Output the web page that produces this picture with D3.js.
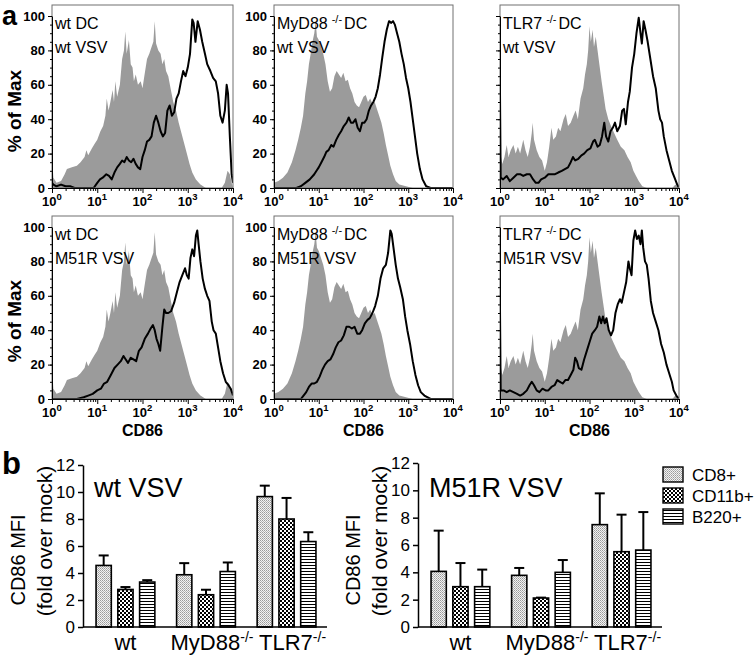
<!DOCTYPE html>
<html>
<head>
<meta charset="utf-8">
<script src="https://cdn.jsdelivr.net/npm/d3@7"></script>
<style>
  body { margin: 0; background: #fff; }
  svg { display: block; font-family: "Liberation Sans", Arial, Helvetica, sans-serif; }
</style>
</head>
<body>
<svg id="chart" width="755" height="656"></svg>
<script>
// ---------- panel a: CD86 histograms (x = log10 CD86, y = % of max) ----------
const grayWt = [[0,0],[0.005,17],[0.03,6],[0.1,3],[0.2,4],[0.28,8],[0.33,11],[0.44,12],[0.55,13],[0.63,15],[0.72,18],[0.76,22],[0.8,19],[0.88,23],[0.95,26],[1.0,28],[1.07,33],[1.13,36],[1.18,42],[1.21,52],[1.25,45],[1.29,50],[1.34,57],[1.37,50],[1.4,62],[1.44,53],[1.5,60],[1.55,75],[1.59,80],[1.62,91],[1.65,78],[1.7,86],[1.74,72],[1.78,70],[1.81,62],[1.85,66],[1.9,60],[1.96,62],[2.0,58],[2.04,65],[2.1,75],[2.15,78],[2.2,82],[2.24,85],[2.27,97],[2.3,84],[2.35,80],[2.4,78],[2.44,72],[2.48,75],[2.52,68],[2.57,65],[2.62,58],[2.68,50],[2.74,45],[2.8,38],[2.86,32],[2.92,26],[2.98,20],[3.04,14],[3.1,9],[3.18,5],[3.28,2],[3.4,0],[3.75,0],[3.82,3],[3.88,10],[3.93,8],[3.97,3],[4,0]];
const grayMyd = [[0,3],[0.1,4],[0.2,6],[0.3,9],[0.4,15],[0.48,22],[0.54,28],[0.6,35],[0.65,42],[0.7,55],[0.74,62],[0.78,72],[0.82,78],[0.86,85],[0.9,90],[0.93,97],[0.96,88],[1.0,86],[1.05,82],[1.1,78],[1.15,72],[1.2,62],[1.25,56],[1.3,58],[1.35,65],[1.4,68],[1.45,66],[1.5,64],[1.55,67],[1.6,62],[1.65,63],[1.7,58],[1.75,55],[1.8,50],[1.85,48],[1.9,47],[1.95,50],[2.0,53],[2.05,54],[2.1,50],[2.15,52],[2.2,49],[2.25,50],[2.3,46],[2.35,42],[2.4,38],[2.45,32],[2.5,25],[2.55,19],[2.6,13],[2.66,8],[2.72,4],[2.8,2],[2.95,1],[3.1,0],[4,0]];
const grayTlr = [[0,0],[0.01,20],[0.05,14],[0.1,18],[0.15,25],[0.19,18],[0.24,22],[0.3,25],[0.35,20],[0.4,24],[0.45,20],[0.52,28],[0.57,22],[0.62,18],[0.67,24],[0.71,32],[0.73,38],[0.76,28],[0.82,22],[0.88,18],[0.94,16],[1.0,10],[1.05,15],[1.1,24],[1.15,35],[1.19,28],[1.25,30],[1.3,35],[1.35,33],[1.42,40],[1.47,43],[1.52,36],[1.58,38],[1.64,42],[1.69,45],[1.74,40],[1.8,52],[1.86,58],[1.9,66],[1.94,72],[1.97,80],[2.0,94],[2.03,85],[2.07,92],[2.1,82],[2.14,88],[2.18,80],[2.22,72],[2.27,62],[2.31,55],[2.36,46],[2.42,40],[2.48,36],[2.55,32],[2.62,28],[2.7,24],[2.78,22],[2.85,18],[2.92,15],[2.98,10],[3.04,7],[3.1,4],[3.18,1],[3.28,0],[3.85,0],[3.92,2],[3.97,1],[4,0]];

const lineWtWt = [[0,3],[0.03,2],[0.1,1],[0.2,2],[0.3,1],[0.4,1],[0.5,0],[0.65,0],[0.8,0],[0.92,0],[1.0,3],[1.06,5],[1.12,6],[1.2,8],[1.26,7],[1.32,5],[1.38,9],[1.44,12],[1.5,14],[1.55,16],[1.6,15],[1.65,18],[1.7,16],[1.75,15],[1.8,17],[1.85,14],[1.9,12],[1.95,11],[2.0,18],[2.05,22],[2.1,27],[2.15,28],[2.2,30],[2.25,38],[2.3,42],[2.35,38],[2.4,33],[2.45,30],[2.5,32],[2.55,45],[2.6,48],[2.65,42],[2.7,44],[2.75,52],[2.8,55],[2.85,62],[2.9,68],[2.95,65],[3.0,70],[3.05,78],[3.1,98],[3.13,96],[3.17,85],[3.22,97],[3.27,92],[3.32,85],[3.38,78],[3.43,72],[3.5,68],[3.56,64],[3.62,62],[3.67,55],[3.72,42],[3.77,38],[3.82,45],[3.86,60],[3.89,55],[3.93,30],[3.97,8],[4,3]];
const lineMydWt = [[0,0],[0.5,0],[0.6,1],[0.7,3],[0.8,5],[0.9,8],[0.95,10],[1.0,12],[1.06,15],[1.12,18],[1.17,21],[1.22,22],[1.28,25],[1.33,24],[1.39,28],[1.45,31],[1.5,33],[1.56,36],[1.62,38],[1.67,41],[1.72,38],[1.77,38],[1.82,40],[1.87,35],[1.92,33],[1.97,38],[2.02,38],[2.07,40],[2.12,45],[2.17,48],[2.22,50],[2.27,53],[2.32,58],[2.37,66],[2.42,76],[2.47,85],[2.52,92],[2.57,97],[2.62,96],[2.66,97],[2.7,95],[2.75,90],[2.8,85],[2.85,78],[2.9,72],[2.95,64],[3.0,58],[3.05,50],[3.1,40],[3.15,30],[3.2,20],[3.26,11],[3.32,5],[3.4,1],[3.5,0],[4,0]];
const lineTlrWt = [[0,55],[0.015,6],[0.07,5],[0.15,7],[0.22,4],[0.3,6],[0.38,8],[0.45,8],[0.52,7],[0.6,8],[0.67,8],[0.74,5],[0.8,3],[0.86,3],[0.92,5],[1.0,6],[1.08,8],[1.15,8],[1.23,8],[1.3,9],[1.38,10],[1.45,11],[1.52,12],[1.58,15],[1.63,18],[1.68,16],[1.75,17],[1.82,19],[1.88,20],[1.95,22],[2.02,23],[2.08,27],[2.12,28],[2.18,24],[2.23,25],[2.28,30],[2.33,38],[2.37,30],[2.42,27],[2.47,33],[2.52,35],[2.57,38],[2.62,33],[2.68,36],[2.73,45],[2.77,46],[2.81,37],[2.86,50],[2.9,56],[2.95,70],[3.0,78],[3.05,90],[3.1,99],[3.14,90],[3.17,84],[3.21,97],[3.25,92],[3.3,85],[3.36,75],[3.42,65],[3.48,58],[3.54,45],[3.58,40],[3.62,38],[3.66,30],[3.72,22],[3.78,16],[3.84,10],[3.9,6],[3.96,2],[4,0]];
const lineWtM51r = [[0,0],[0.55,0],[0.7,1],[0.8,2],[0.9,3],[1.0,5],[1.08,6],[1.15,9],[1.22,10],[1.3,14],[1.38,18],[1.45,20],[1.52,22],[1.58,25],[1.63,23],[1.68,21],[1.74,24],[1.8,23],[1.86,22],[1.92,28],[1.98,30],[2.05,35],[2.12,38],[2.18,41],[2.23,43],[2.27,40],[2.31,35],[2.35,32],[2.39,28],[2.44,42],[2.48,52],[2.52,50],[2.57,50],[2.63,51],[2.7,56],[2.76,62],[2.82,68],[2.88,72],[2.94,76],[2.98,72],[3.02,70],[3.06,82],[3.1,87],[3.14,83],[3.18,95],[3.21,98],[3.24,90],[3.28,80],[3.33,70],[3.38,64],[3.43,60],[3.48,57],[3.53,45],[3.57,40],[3.62,38],[3.67,30],[3.72,22],[3.78,15],[3.84,10],[3.9,8],[3.95,6],[4,2]];
const lineMydM51r = [[0,0],[0.6,0],[0.66,2],[0.72,4],[0.78,7],[0.84,9],[0.9,9],[0.96,10],[1.02,13],[1.08,17],[1.14,20],[1.2,22],[1.26,23],[1.32,26],[1.38,30],[1.44,33],[1.5,34],[1.56,37],[1.62,42],[1.68,42],[1.74,41],[1.8,42],[1.86,38],[1.92,38],[1.97,40],[2.03,44],[2.09,46],[2.14,47],[2.2,50],[2.26,54],[2.32,60],[2.38,70],[2.44,76],[2.5,78],[2.55,85],[2.6,98],[2.63,96],[2.67,88],[2.72,78],[2.77,70],[2.82,65],[2.88,58],[2.93,48],[2.98,40],[3.04,32],[3.1,22],[3.16,14],[3.22,8],[3.28,4],[3.36,2],[3.5,0],[4,0]];
const lineTlrM51r = [[0,52],[0.015,5],[0.08,5],[0.15,4],[0.22,5],[0.3,4],[0.38,3],[0.45,2],[0.52,3],[0.6,5],[0.66,8],[0.71,10],[0.76,8],[0.82,5],[0.88,4],[0.95,6],[1.02,5],[1.08,5],[1.15,7],[1.22,8],[1.28,11],[1.34,10],[1.4,9],[1.46,11],[1.52,11],[1.58,14],[1.64,17],[1.68,24],[1.72,22],[1.76,18],[1.82,17],[1.88,23],[1.94,28],[2.0,33],[2.06,38],[2.12,40],[2.17,42],[2.22,48],[2.26,44],[2.3,48],[2.34,44],[2.38,47],[2.43,40],[2.48,37],[2.53,40],[2.58,50],[2.63,55],[2.68,58],[2.72,56],[2.77,62],[2.82,68],[2.87,80],[2.9,76],[2.94,72],[2.98,92],[3.02,98],[3.06,93],[3.1,95],[3.14,90],[3.17,98],[3.2,88],[3.24,80],[3.28,78],[3.32,70],[3.37,57],[3.42,50],[3.48,45],[3.54,40],[3.6,32],[3.66,27],[3.72,20],[3.78,15],[3.84,10],[3.88,5],[3.94,2],[4,0]];

const hostNames = ['wt', 'MyD88', 'TLR7'];
const virusNames = ['wt VSV', 'M51R VSV'];
const pctTicks = [0, 20, 40, 60, 80, 100];
const decadeTicks = [1, 10, 100, 1000, 10000];

const histGray = [[grayWt, grayMyd, grayTlr], [grayWt, grayMyd, grayTlr]];
const histLine = [[lineWtWt, lineMydWt, lineTlrWt], [lineWtM51r, lineMydM51r, lineTlrM51r]];

// ---------- panel b: CD86 MFI fold over mock ----------
const barGroups = ['wt', 'MyD88', 'TLR7'];
const barSeries = ['CD8+', 'CD11b+', 'B220+'];
const wtVsvMean = [[4.56, 2.78, 3.33], [3.87, 2.39, 4.11], [9.66, 8.0, 6.33]];
const wtVsvErr = [[0.74, 0.18, 0.14], [0.86, 0.37, 0.67], [0.81, 1.56, 0.69]];
const m51rVsvMean = [[4.07, 2.95, 2.95], [3.78, 2.12, 4.0], [7.49, 5.51, 5.63]];
const m51rVsvErr = [[2.98, 1.73, 1.25], [0.54, 0.03, 0.9], [2.29, 2.71, 2.78]];
const mfiTicks = [0, 2, 4, 6, 8, 10, 12];

// ---------- layout ----------
const histCols = [
    { x0: 52, x1: 233, labels: true },
    { x0: 274, x1: 453, labels: true },
    { x0: 500, x1: 679, labels: false }
];
const histRows = [
    { top: 5, y0: 188, y100: 16 },
    { top: 216, y0: 399, y100: 227 }
];
const patternIds = ['pat-dots', 'pat-check', 'pat-lines'];

const svg = d3.select('#chart');
svg.append('rect').attr('width', 755).attr('height', 656).attr('fill', '#fff');

// Patterns for the bar fills
const defs = svg.append('defs');
const dots = defs.append('pattern').attr('id', 'pat-dots').attr('patternUnits', 'userSpaceOnUse')
    .attr('width', 2).attr('height', 2);
dots.append('rect').attr('width', 2).attr('height', 2).attr('fill', '#f2f2f2');
dots.append('rect').attr('width', 1).attr('height', 1).attr('fill', '#9a9a9a');
dots.append('rect').attr('x', 1).attr('y', 1).attr('width', 1).attr('height', 1).attr('fill', '#b5b5b5');

const check = defs.append('pattern').attr('id', 'pat-check').attr('patternUnits', 'userSpaceOnUse')
    .attr('width', 4).attr('height', 4);
check.append('rect').attr('width', 4).attr('height', 4).attr('fill', '#fff');
check.append('rect').attr('width', 2).attr('height', 2).attr('fill', '#000');
check.append('rect').attr('x', 2).attr('y', 2).attr('width', 2).attr('height', 2).attr('fill', '#000');

const stripes = defs.append('pattern').attr('id', 'pat-lines').attr('patternUnits', 'userSpaceOnUse')
    .attr('width', 4).attr('height', 3);
stripes.append('rect').attr('width', 4).attr('height', 3).attr('fill', '#fff');
stripes.append('rect').attr('y', 1).attr('width', 4).attr('height', 1).attr('fill', '#000');

// Render one histogram panel
function renderHistogram(r, c) {
    const col = histCols[c];
    const row = histRows[r];
    const x = d3.scaleLog().domain([1, 1e4]).range([col.x0, col.x1]);
    const y = d3.scaleLinear().domain([0, 100]).range([row.y0, row.y100]);
    const g = svg.append('g');

    const clipId = `clip-${r}-${c}`;
    defs.append('clipPath').attr('id', clipId).append('rect')
        .attr('x', col.x0).attr('y', row.top)
        .attr('width', col.x1 - col.x0).attr('height', row.y0 - row.top);

    const area = d3.area()
        .x(d => x(Math.pow(10, d[0])))
        .y0(y(0))
        .y1(d => y(d[1]));
    const line = d3.line()
        .x(d => x(Math.pow(10, d[0])))
        .y(d => y(d[1]));

    g.append('path')
        .datum(histGray[r][c])
        .attr('d', area)
        .attr('fill', '#9b9b9b')
        .attr('clip-path', `url(#${clipId})`);

    g.append('path')
        .datum(histLine[r][c])
        .attr('d', line)
        .attr('fill', 'none')
        .attr('stroke', '#000')
        .attr('stroke-width', 2)
        .attr('stroke-linejoin', 'round')
        .attr('clip-path', `url(#${clipId})`);

    // Frame
    g.append('rect')
        .attr('x', col.x0).attr('y', row.top)
        .attr('width', col.x1 - col.x0).attr('height', row.y0 - row.top)
        .attr('fill', 'none')
        .attr('stroke', '#707070')
        .attr('stroke-width', 1);

    // Y axis
    const yAxis = g.append('g')
        .attr('transform', `translate(${col.x0},0)`)
        .call(d3.axisLeft(y).tickValues(pctTicks).tickSize(4).tickSizeOuter(0)
            .tickFormat(col.labels ? d => d : ''));
    yAxis.select('.domain').attr('stroke', '#000');
    yAxis.selectAll('text').style('font-size', '13px').style('font-weight', 'bold').attr('fill', '#000');

    g.append('g')
        .attr('transform', `translate(${col.x0},0)`)
        .call(d3.axisLeft(y).ticks(25).tickSize(2).tickFormat(''))
        .call(a => a.select('.domain').remove());

    // X axis: decades with labels, minor log ticks
    g.append('g')
        .attr('transform', `translate(0,${row.y0})`)
        .call(d3.axisBottom(x).tickValues(decadeTicks).tickSize(5).tickSizeOuter(0).tickFormat(''))
        .select('.domain').attr('stroke', '#000');

    g.append('g')
        .attr('transform', `translate(0,${row.y0})`)
        .call(d3.axisBottom(x).tickValues(x.ticks().filter(v => decadeTicks.indexOf(v) < 0))
            .tickSize(3).tickFormat(''))
        .call(a => a.select('.domain').remove());

    decadeTicks.forEach((v, i) => {
        const t = g.append('text')
            .attr('x', x(v))
            .attr('y', row.y0 + 18)
            .attr('text-anchor', 'middle')
            .style('font-size', '13px')
            .style('font-weight', 'bold');
        t.append('tspan').text('10');
        t.append('tspan').attr('dy', -6).style('font-size', '9.5px').text(i);
    });

    // Panel label
    const label = g.append('text')
        .attr('x', col.x0 + 3)
        .attr('y', row.top + 24)
        .style('font-size', '16px');
    label.append('tspan').text(hostNames[c]);
    if (c > 0) {
        label.append('tspan').attr('dx', 4).attr('dy', -6).style('font-size', '11px').text('-/-');
        label.append('tspan').attr('dx', 2).attr('dy', 6).text('DC');
    } else {
        label.append('tspan').text(' DC');
    }
    g.append('text')
        .attr('x', col.x0 + 3)
        .attr('y', row.top + 48)
        .style('font-size', '16px')
        .text(virusNames[r]);

    if (r === 1) {
        g.append('text')
            .attr('x', (col.x0 + col.x1) / 2)
            .attr('y', 436)
            .attr('text-anchor', 'middle')
            .style('font-size', '16px')
            .style('font-weight', 'bold')
            .text('CD86');
    }
}

for (let r = 0; r < 2; r++) {
    for (let c = 0; c < 3; c++) renderHistogram(r, c);
    svg.append('text')
        .attr('transform', `translate(14,${r === 0 ? 111 : 321}) rotate(-90)`)
        .attr('text-anchor', 'middle')
        .attr('dy', '0.35em')
        .style('font-size', '19px')
        .style('font-weight', 'bold')
        .text('% of Max');
}

svg.append('text').attr('x', 2).attr('y', 25)
    .style('font-size', '27px').style('font-weight', 'bold').text('a');
svg.append('text').attr('x', 2).attr('y', 474)
    .style('font-size', '31px').style('font-weight', 'bold').text('b');

// Render one grouped bar chart
function renderBarChart(axisX, y12, title, means, errs) {
    const y = d3.scaleLinear().domain([0, 12]).range([627, y12]);
    const x0 = d3.scaleBand().domain(barGroups).range([axisX + 5, axisX + 241])
        .paddingInner(0.27).paddingOuter(0.1);
    const x1 = d3.scaleBand().domain(barSeries).range([0, x0.bandwidth()]).paddingInner(0.3);
    const g = svg.append('g');

    const rows = [];
    barGroups.forEach((grp, gi) => barSeries.forEach((s, si) => {
        rows.push({ grp, s, si, v: means[gi][si], e: errs[gi][si] });
    }));

    const bars = g.selectAll('.bar').data(rows).enter().append('g').attr('class', 'bar');

    // Error bars (upper only)
    bars.append('line')
        .attr('x1', d => x0(d.grp) + x1(d.s) + x1.bandwidth() / 2)
        .attr('x2', d => x0(d.grp) + x1(d.s) + x1.bandwidth() / 2)
        .attr('y1', d => y(d.v))
        .attr('y2', d => y(d.v + d.e))
        .attr('stroke', '#000').attr('stroke-width', 2);
    bars.append('line')
        .attr('x1', d => x0(d.grp) + x1(d.s) + x1.bandwidth() / 2 - 5)
        .attr('x2', d => x0(d.grp) + x1(d.s) + x1.bandwidth() / 2 + 5)
        .attr('y1', d => y(d.v + d.e))
        .attr('y2', d => y(d.v + d.e))
        .attr('stroke', '#000').attr('stroke-width', 2);

    bars.append('rect')
        .attr('x', d => x0(d.grp) + x1(d.s))
        .attr('y', d => y(d.v))
        .attr('width', x1.bandwidth())
        .attr('height', d => y(0) - y(d.v))
        .attr('fill', d => `url(#${patternIds[d.si]})`)
        .attr('stroke', '#000')
        .attr('stroke-width', 1.6);

    // Axes
    const yAxis = g.append('g')
        .attr('transform', `translate(${axisX},0)`)
        .call(d3.axisLeft(y).tickValues(mfiTicks).tickSize(5).tickSizeOuter(0));
    yAxis.selectAll('line, path').attr('stroke', '#000').attr('stroke-width', 1.5);
    yAxis.selectAll('text').style('font-size', '17px').attr('fill', '#000');

    g.append('line')
        .attr('x1', axisX).attr('x2', axisX + 244)
        .attr('y1', y(0)).attr('y2', y(0))
        .attr('stroke', '#000').attr('stroke-width', 1.6);

    barGroups.forEach((grp, gi) => {
        const t = g.append('text')
            .attr('x', x0(grp) + x0.bandwidth() / 2 + (gi > 0 ? 6 : 0))
            .attr('y', 650)
            .attr('text-anchor', 'middle')
            .style('font-size', '22px');
        t.append('tspan').text(grp);
        if (gi > 0) t.append('tspan').attr('dy', -8).style('font-size', '14px').text('-/-');
    });

    g.append('text')
        .attr('transform', `translate(${axisX - 65},560) rotate(-90)`)
        .attr('text-anchor', 'middle').attr('dy', '0.35em')
        .style('font-size', '20px')
        .text('CD86 MFI');
    g.append('text')
        .attr('transform', `translate(${axisX - 38},541) rotate(-90)`)
        .attr('text-anchor', 'middle').attr('dy', '0.35em')
        .style('font-size', '21px')
        .text('(fold over mock)');

    g.append('text')
        .attr('x', axisX + 11)
        .attr('y', 497)
        .style('font-size', '27px')
        .text(title);
}

renderBarChart(83, 465, 'wt VSV', wtVsvMean, wtVsvErr);
renderBarChart(418, 463, 'M51R VSV', m51rVsvMean, m51rVsvErr);

// Legend
const legend = svg.append('g').attr('transform', 'translate(663,467)');
legend.selectAll('.legend-item')
    .data(barSeries)
    .enter().append('g')
    .attr('class', 'legend-item')
    .attr('transform', (d, i) => `translate(0,${i * 21})`)
    .each(function(d, i) {
        const item = d3.select(this);
        item.append('rect')
            .attr('width', 20).attr('height', 15)
            .attr('fill', `url(#${patternIds[i]})`)
            .attr('stroke', '#000').attr('stroke-width', 1.4);
        item.append('text')
            .attr('x', 29).attr('y', 8)
            .attr('dy', '0.35em')
            .style('font-size', '17px')
            .text(d);
    });
</script>
</body>
</html>
